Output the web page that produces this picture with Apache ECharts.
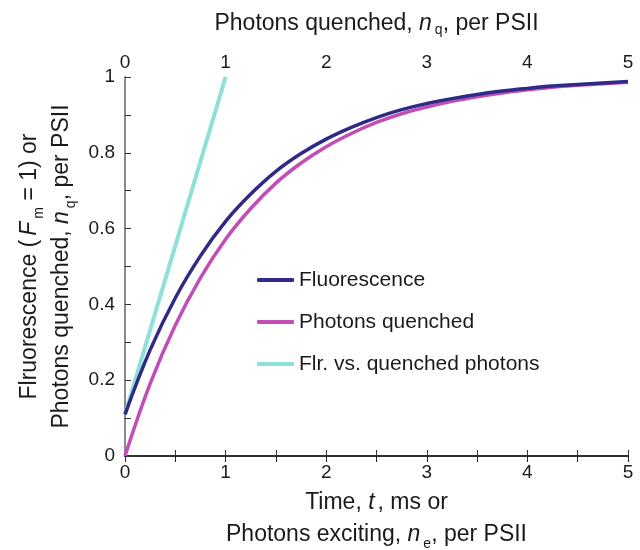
<!DOCTYPE html>
<html>
<head>
<meta charset="utf-8">
<script src="https://cdn.jsdelivr.net/npm/echarts@6/dist/echarts.min.js"></script>
<style>
  html, body { margin: 0; padding: 0; background: #fff; }
  #chart { width: 640px; height: 550px; }
</style>
</head>
<body>
<div id="chart"></div>
<script>
  // time, ms (bottom axis)
  var timeMs = [0, 0.25, 0.5, 0.75, 1, 1.25, 1.5, 1.75, 2, 2.25, 2.5, 2.75, 3, 3.25, 3.5, 3.75, 4, 4.25, 4.5, 4.75, 5];
  // fluorescence, Fm = 1
  var fluorescence = [0.110, 0.280, 0.417, 0.528, 0.619, 0.691, 0.751, 0.798, 0.836, 0.867, 0.893, 0.914, 0.930, 0.943, 0.954, 0.963, 0.970, 0.976, 0.980, 0.984, 0.988];
  // photons quenched per PSII
  var quenched = [0, 0.191, 0.345, 0.470, 0.572, 0.653, 0.720, 0.773, 0.816, 0.851, 0.880, 0.903, 0.921, 0.936, 0.948, 0.958, 0.966, 0.973, 0.978, 0.982, 0.986];
  // fluorescence against quenched photons (top axis)
  var flrQuenchX = [0, 1];
  var flrQuenchY = [0.11, 1];

  var font = '"Liberation Sans", Arial, sans-serif';
  var txt = '#1a1a1a';
  var axisCol = '#333';

  function pairs(xs, ys) {
    return xs.map(function (x, i) { return [x, ys[i]]; });
  }

  var rich = {
    i: { fontStyle: 'italic', fontSize: 23, fontFamily: font, color: txt, lineHeight: 26, padding: [0, 3, 0, 0] },
    ip: { fontStyle: 'italic', fontSize: 23, fontFamily: font, color: txt, lineHeight: 26, padding: [0, 3, 0, 4] },
    sub: { fontSize: 14, fontFamily: font, color: txt, verticalAlign: 'bottom', lineHeight: 14 }
  };

  var chart = echarts.init(document.getElementById('chart'));
  chart.setOption({
    animation: false,
    textStyle: { fontFamily: font },
    grid: { left: 125, right: 12, top: 77, bottom: 94, containLabel: false, outerBoundsMode: 'none' },
    legend: {
      orient: 'vertical',
      left: 257,
      top: 269,
      padding: 0,
      itemWidth: 37,
      itemHeight: 4,
      itemGap: 20,
      icon: 'roundRect',
      textStyle: { fontSize: 21, lineHeight: 22, color: txt, fontFamily: font },
      data: ['Fluorescence', 'Photons quenched', 'Flr. vs. quenched photons']
    },
    xAxis: [
      {
        type: 'value', min: 0, max: 5, interval: 1,
        name: 'Time, {i|t}, ms or\nPhotons exciting, {i|n}{sub|e}, per PSII',
        nameLocation: 'middle', nameGap: 28,
        nameTextStyle: { fontSize: 23, color: txt, lineHeight: 32, rich: rich },
        axisLine: { lineStyle: { color: axisCol, width: 1.5 } },
        axisTick: { inside: true, length: 6, lineStyle: { color: axisCol } },
        minorTick: { show: true, splitNumber: 2, length: 6, lineStyle: { color: axisCol } },
        axisLabel: { fontSize: 19, color: txt, margin: 7 },
        splitLine: { show: false }
      },
      {
        type: 'value', min: 0, max: 5, interval: 1, position: 'top',
        name: 'Photons quenched, {i|n}{sub|q}, per PSII',
        nameLocation: 'middle', nameGap: 40,
        nameTextStyle: { fontSize: 23, color: txt, lineHeight: 26, rich: rich },
        axisLine: { lineStyle: { color: '#222', width: 1.5 } },
        axisTick: { inside: true, length: 6, lineStyle: { color: '#222' } },
        minorTick: { show: true, splitNumber: 2, length: 6, lineStyle: { color: '#222' } },
        axisLabel: { fontSize: 19, color: txt, margin: 5 },
        splitLine: { show: false }
      }
    ],
    yAxis: [
      {
        type: 'value', min: 0, max: 1, interval: 0.2,
        name: 'Flruorescence ({ip|F}{sub|m} = 1) or\nPhotons quenched, {i|n}{sub|q}, per PSII',
        nameLocation: 'middle', nameGap: 47,
        nameTextStyle: { fontSize: 23, color: txt, lineHeight: 32, rich: rich },
        axisLine: { lineStyle: { color: axisCol, width: 1.5 } },
        axisTick: { inside: true, length: 6, lineStyle: { color: axisCol } },
        minorTick: { show: true, splitNumber: 2, length: 6, lineStyle: { color: axisCol } },
        axisLabel: { fontSize: 19, color: txt, margin: 10 },
        splitLine: { show: false }
      },
      {
        type: 'value', min: 0, max: 1, position: 'right',
        axisLine: { show: true, lineStyle: { color: '#999', width: 1.5 } },
        axisTick: { show: false },
        axisLabel: { show: false },
        splitLine: { show: false }
      }
    ],
    series: [
      {
        name: 'Fluorescence', type: 'line', smooth: 0.4, showSymbol: false,
        xAxisIndex: 0, yAxisIndex: 0, z: 3,
        itemStyle: { color: '#2f2a86' },
        lineStyle: { width: 3.5, color: '#2f2a86' },
        data: pairs(timeMs, fluorescence)
      },
      {
        name: 'Photons quenched', type: 'line', smooth: 0.4, showSymbol: false,
        xAxisIndex: 0, yAxisIndex: 0, z: 2,
        itemStyle: { color: '#c24db6' },
        lineStyle: { width: 3.5, color: '#c24db6' },
        data: pairs(timeMs, quenched)
      },
      {
        name: 'Flr. vs. quenched photons', type: 'line', showSymbol: false,
        xAxisIndex: 1, yAxisIndex: 0, z: 1,
        itemStyle: { color: '#8ee0d9' },
        lineStyle: { width: 4, color: '#8ee0d9' },
        data: pairs(flrQuenchX, flrQuenchY)
      }
    ]
  });
</script>
</body>
</html>
